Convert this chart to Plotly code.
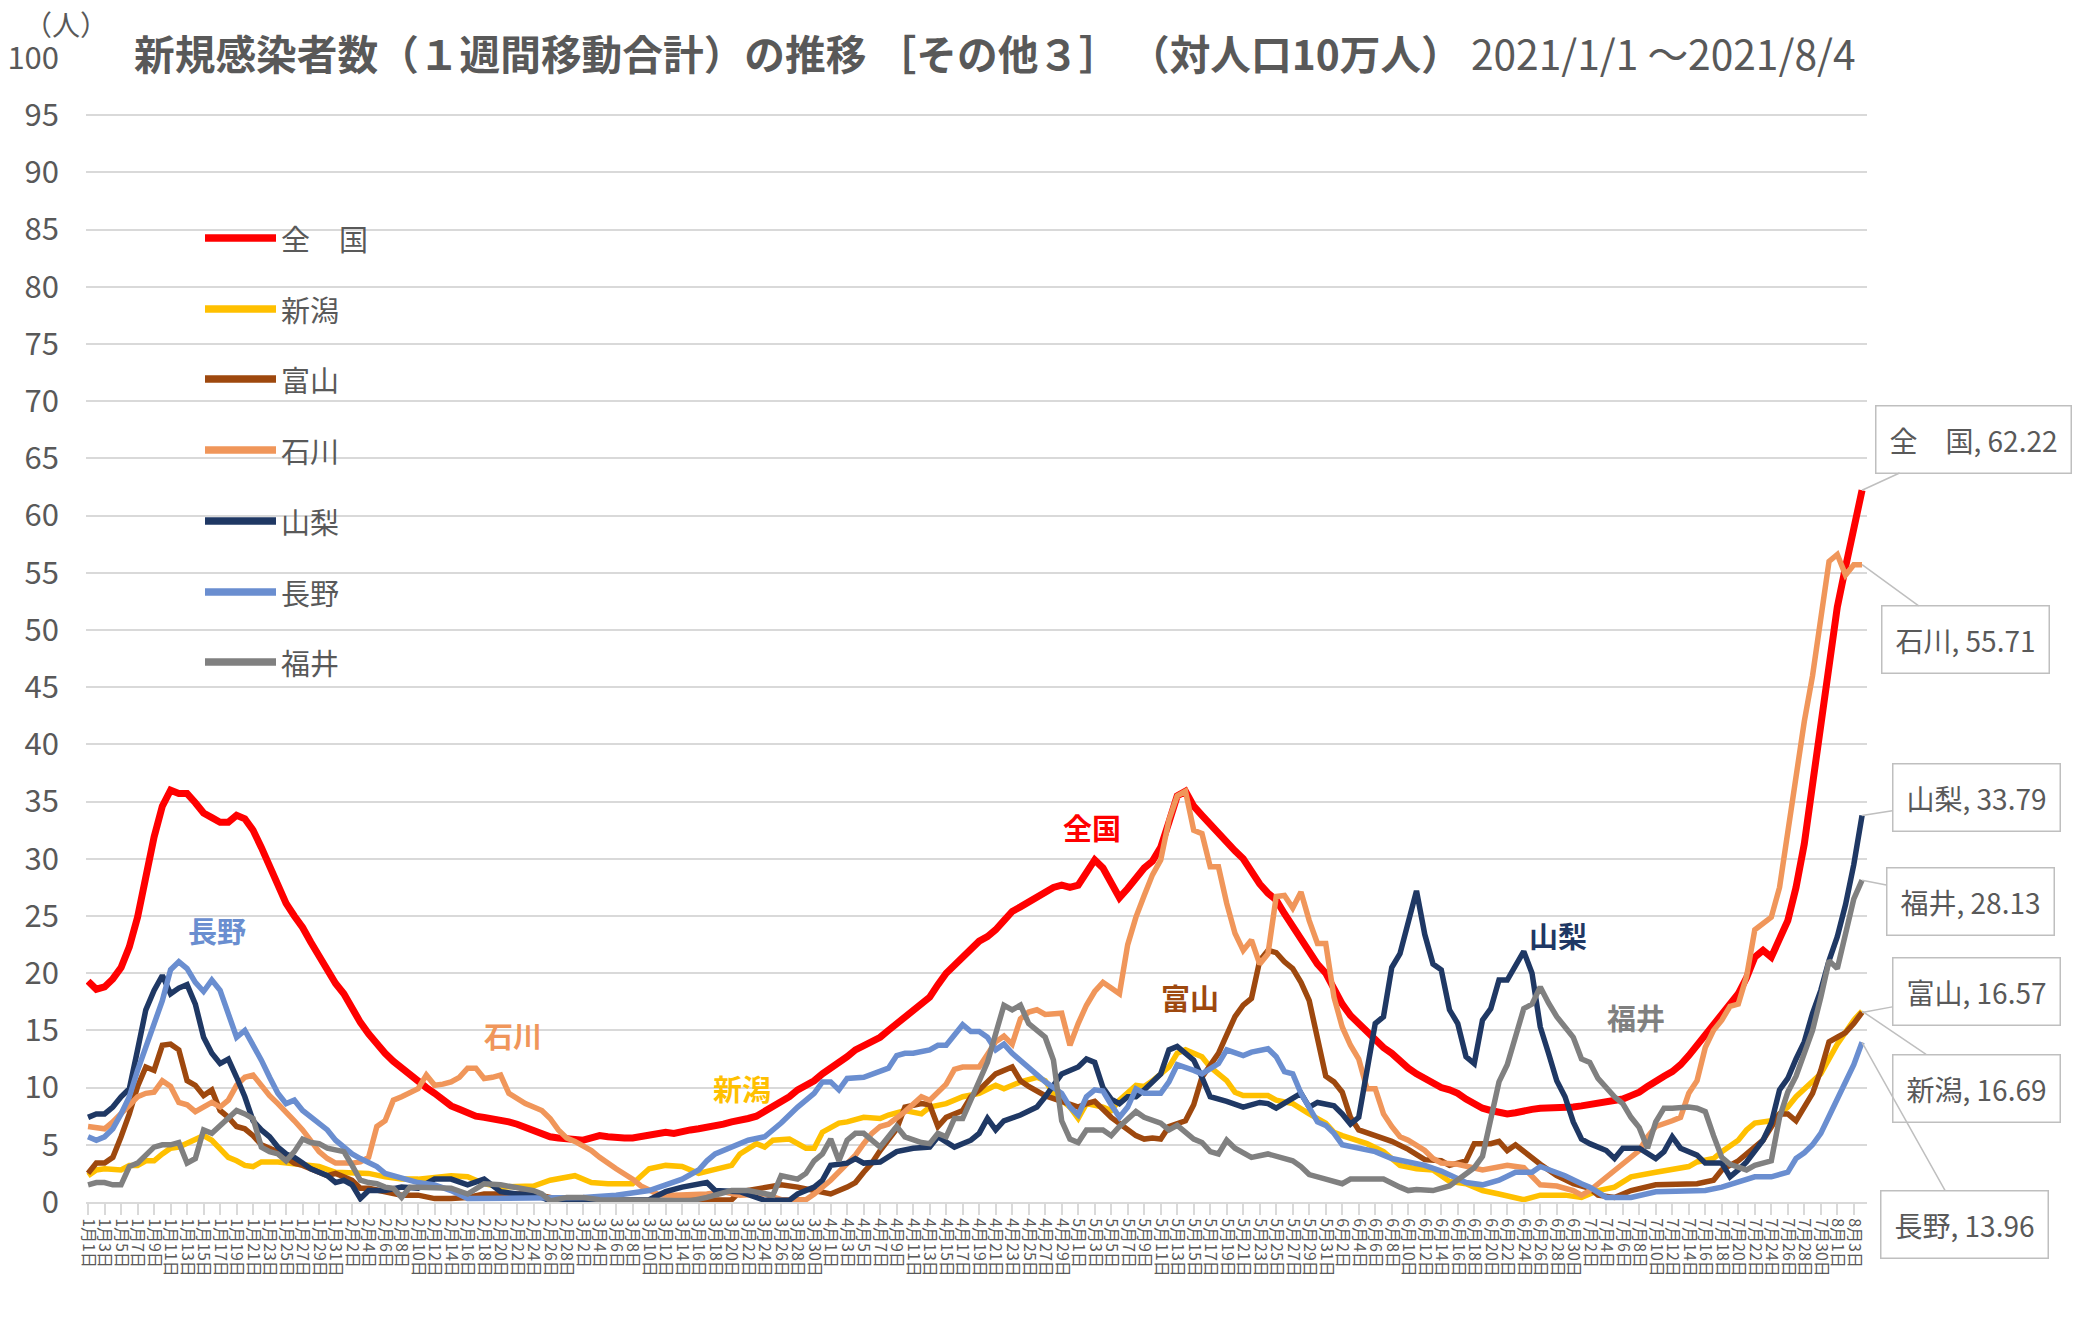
import pandas as pd
import plotly.graph_objects as go

# ---------------- data (day offset from 2021-01-01, value per 100k) ----------------
start = pd.Timestamp("2021-01-01")
n_days = 216
dates = pd.date_range(start, periods=n_days)
tick_days = list(range(0, n_days, 2))
tick_text = [f"{dates[d].month}月{dates[d].day}日" for d in tick_days]

series_names = ["全　国", "新潟", "富山", "石川", "山梨", "長野", "福井"]
series_colors = ["#FF0000", "#FFC000", "#9E480E", "#F0965A", "#1F3864", "#6A8ED0", "#808080"]
inline_labels = ["全国", "新潟", "富山", "石川", "山梨", "長野", "福井"]
y_ticks = list(range(0, 101, 5))

zenkoku = [(0,19.3),(1,18.6),(2,18.8),(3,19.5),(4,20.5),(5,22.3),(6,24.9),(7,28.5),(8,31.9),(9,34.6),(10,36.0),
 (11,35.7),(12,35.7),(13,34.9),(14,34.0),(15,33.6),(16,33.2),(17,33.2),(18,33.8),(19,33.5),(20,32.5),(21,31.0),
 (22,29.3),(23,27.7),(24,26.1),(25,25.0),(26,24.0),(27,22.7),(28,21.4),(29,20.4),(30,19.1),(31,18.2),(32,16.8),
 (33,15.7),(34,14.7),(35,13.8),(36,13.0),(37,12.3),(38,11.7),(39,11.1),(40,10.5),(41,10.0),(42,9.5),(43,8.9),
 (44,8.4),(45,8.1),(46,7.8),(47,7.5),(48,7.4),(49,7.3),(50,7.2),(51,7.0),(52,6.8),(53,6.5),(54,6.2),(55,5.9),
 (56,5.7),(57,5.6),(58,5.5),(59,5.5),(60,5.4),(61,5.6),(62,5.8),(63,5.7),(64,5.6),(65,5.6),(66,5.6),(67,5.7),
 (68,5.8),(69,5.9),(70,6.1),(71,6.0),(72,6.2),(73,6.3),(74,6.4),(75,6.5),(76,6.6),(77,6.8),(78,7.0),(79,7.1),
 (80,7.3),(81,7.5),(82,7.9),(83,8.3),(84,8.7),(85,9.2),(86,9.8),(87,10.2),(88,10.6),(89,11.2),(90,11.7),
 (91,12.1),(92,12.7),(93,13.3),(94,13.7),(95,14.0),(96,14.4),(97,15.0),(98,15.6),(99,16.2),(100,16.8),
 (101,17.4),(102,17.9),(103,19.0),(104,20.0),(105,20.7),(106,21.4),(107,22.0),(108,22.8),(109,23.2),(110,23.8),
 (111,24.6),(112,25.4),(113,25.8),(114,26.2),(115,26.6),(116,27.1),(117,27.5),(118,27.7),(119,27.5),(120,27.7),
 (121,28.8),(122,29.9),(123,29.2),(124,27.8),(125,26.6),(126,27.4),(127,28.4),(128,29.2),(129,29.8),(130,31.0),
 (131,33.2),(132,35.5),(133,35.9),(134,34.6),(135,33.8),(136,33.0),(137,32.2),(138,31.3),(139,30.7),(140,30.0),
 (141,28.9),(142,27.8),(143,27.0),(144,26.4),(145,25.2),(146,24.1),(147,22.9),(148,21.7),(149,20.8),(150,20.0),
 (151,18.6),(152,17.3),(153,16.3),(154,15.6),(155,14.8),(156,14.1),(157,13.5),(158,13.0),(159,12.3),(160,11.7),
 (161,11.2),(162,10.8),(163,10.4),(164,10.0),(165,9.8),(166,9.5),(167,9.0),(168,8.6),(169,8.2),(170,8.0),
 (171,7.8),(172,7.7),(173,7.8),(174,8.0),(175,8.1),(176,8.2),(177,8.2),(178,8.3),(179,8.3),(180,8.3),
 (181,8.4),(182,8.5),(183,8.6),(184,8.7),(185,8.8),(186,9.0),(187,9.3),(188,9.6),(189,10.1),(190,10.6),
 (191,11.0),(192,11.4),(193,12.0),(194,12.8),(195,13.7),(196,14.7),(197,15.7),(198,16.6),(199,17.4),(200,18.2),
 (201,19.6),(202,21.4),(203,22.0),(204,21.4),(205,23.0),(206,24.6),(207,27.5),(208,31.3),(209,36.5),(210,41.5),
 (211,47.5),(212,52.0),(213,55.5),(214,59.0),(215,62.22)]

niigata = [(0,2.3),(1,2.8),(2,2.9),(4,2.8),(5,3.2),(6,3.2),(7,3.6),(8,3.6),(9,4.2),(10,4.7),(11,4.8),(12,5.1),
 (13,5.4),(14,5.8),(15,5.4),(16,4.7),(17,3.9),(18,3.6),(19,3.2),(20,3.1),(21,3.5),(23,3.5),(24,3.4),(26,3.2),
 (28,3.1),(30,2.6),(32,2.6),(34,2.5),(36,2.2),(38,2.0),(40,2.0),(42,2.2),(44,2.3),(46,2.2),(48,1.6),(50,1.3),
 (52,1.3),(54,1.4),(56,1.9),(58,2.2),(59,2.3),(61,1.7),(63,1.6),(66,1.6),(68,2.9),(70,3.2),(72,3.1),(74,2.5),
 (76,2.9),(78,3.2),(79,4.2),(81,5.1),(82,4.8),(83,5.4),(85,5.5),(87,4.7),(88,4.7),(89,6.1),(91,6.9),(92,7.0),
 (94,7.4),(96,7.3),(97,7.6),(99,8.0),(101,7.7),(102,8.3),(104,8.6),(106,9.2),(108,9.5),(110,10.2),(111,9.9),
 (113,10.5),(115,10.9),(116,10.6),(117,9.5),(119,8.3),(120,7.3),(121,8.6),(123,8.3),(124,8.0),(125,8.9),
 (127,10.2),(128,10.1),(129,10.6),(131,11.8),(132,13.0),(133,13.3),(135,12.7),(136,11.8),(138,10.6),(139,9.6),
 (140,9.3),(141,9.3),(143,9.3),(144,8.9),(146,8.6),(148,7.7),(150,6.9),(151,6.1),(152,5.8),(155,5.1),(157,4.4),
 (159,3.2),(161,2.9),(163,2.8),(165,1.8),(167,1.6),(169,1.0),(171,0.7),(174,0.2),(176,0.6),(179,0.6),(181,0.4),
 (183,1.0),(185,1.3),(187,2.2),(190,2.6),(192,2.9),(194,3.1),(195,3.5),(197,3.8),(198,4.4),(200,5.4),(201,6.3),
 (202,6.9),(204,7.1),(205,7.7),(206,8.3),(207,9.2),(210,11.2),(211,12.5),(212,13.8),(214,15.9),(215,16.69)]

toyama = [(0,2.5),(1,3.4),(2,3.4),(3,3.9),(4,5.7),(5,7.7),(6,10.1),(7,11.8),(8,11.5),(9,13.7),(10,13.8),(11,13.3),
 (12,10.6),(13,10.2),(14,9.3),(15,9.8),(16,8.0),(17,7.4),(18,6.6),(19,6.4),(20,5.8),(21,5.0),(22,4.7),(23,4.4),
 (24,3.9),(25,3.4),(26,3.2),(27,2.9),(28,2.6),(29,2.3),(30,2.5),(31,2.2),(32,1.9),(33,1.2),(34,1.2),(36,0.9),
 (38,0.6),(40,0.6),(42,0.3),(44,0.3),(46,0.4),(48,0.7),(50,0.7),(52,0.6),(54,0.7),(56,0.4),(58,0.1),(62,0.1),
 (66,0.1),(70,0.1),(74,0.1),(78,0.2),(79,0.9),(82,1.2),(84,1.5),(86,1.3),(88,1.0),(90,0.7),(92,1.3),(93,1.7),
 (94,2.6),(95,3.4),(96,4.5),(97,5.4),(98,6.4),(99,8.3),(101,8.6),(102,8.5),(103,6.6),(104,7.4),(106,8.0),
 (107,9.2),(108,9.8),(110,11.2),(112,11.8),(113,10.6),(114,10.1),(116,9.3),(118,8.8),(120,8.3),(121,8.6),
 (122,8.8),(124,7.4),(126,6.3),(127,5.8),(128,5.5),(129,5.6),(130,5.5),(131,6.6),(133,7.1),(134,8.5),(135,10.9),
 (137,13.0),(138,14.6),(139,16.2),(140,17.2),(141,17.8),(142,21.1),(143,22.0),(144,21.8),(145,21.0),(146,20.4),
 (147,19.2),(148,17.6),(149,14.4),(150,11.0),(151,10.5),(152,9.6),(153,7.4),(154,6.3),(156,5.8),(158,5.3),
 (160,4.6),(162,3.7),(164,3.6),(165,3.2),(167,3.6),(168,5.1),(169,5.1),(170,5.1),(171,5.3),(172,4.5),(173,5.0),
 (175,3.8),(176,3.3),(178,2.3),(180,1.6),(182,1.2),(183,0.6),(185,0.4),(187,1.0),(190,1.5),(192,1.5),(195,1.6),
 (197,1.9),(198,2.8),(200,3.6),(202,4.8),(203,5.4),(205,7.7),(206,7.7),(207,7.1),(208,8.3),(209,9.5),(210,11.5),
 (211,14.0),(212,14.4),(213,14.8),(214,15.6),(215,16.57)]

ishikawa = [(0,6.6),(2,6.4),(3,7.0),(4,7.7),(5,8.5),(6,9.2),(7,9.5),(8,9.6),(9,10.6),(10,10.1),(11,8.7),(12,8.5),
 (13,7.9),(14,8.3),(15,8.7),(16,8.3),(17,8.9),(18,10.2),(19,10.9),(20,11.1),(21,10.1),(22,9.3),(23,8.6),(24,7.9),
 (25,7.1),(26,6.3),(27,5.4),(28,4.4),(29,3.8),(30,3.4),(32,3.4),(33,3.5),(34,3.9),(35,6.6),(36,7.1),(37,8.9),
 (38,9.2),(39,9.5),(40,9.9),(41,11.1),(42,10.2),(43,10.3),(44,10.5),(45,10.9),(46,11.7),(47,11.7),(48,10.8),
 (49,10.9),(50,11.1),(51,9.5),(52,9.0),(53,8.6),(54,8.3),(55,8.0),(56,7.3),(57,6.3),(58,5.6),(59,5.3),(61,4.5),
 (62,3.9),(64,2.9),(66,2.0),(67,1.4),(69,0.7),(71,0.6),(73,0.6),(75,0.7),(77,0.9),(79,0.6),(82,0.7),(84,0.2),
 (87,0.2),(88,0.7),(90,1.9),(92,3.4),(93,4.1),(94,5.1),(95,6.0),(96,6.6),(97,6.8),(99,7.9),(100,8.5),(101,9.2),
 (102,8.9),(104,10.3),(105,11.6),(106,11.8),(108,11.8),(109,13.0),(110,14.0),(111,14.5),(112,13.8),(113,16.0),
 (114,16.6),(115,16.8),(116,16.4),(118,16.5),(119,13.7),(120,15.6),(121,17.2),(122,18.4),(123,19.2),(124,18.7),
 (125,18.2),(126,22.5),(127,24.9),(128,26.8),(129,28.6),(130,29.9),(131,33.4),(132,35.5),(133,35.9),(134,32.5),
 (135,32.2),(136,29.3),(137,29.3),(138,26.1),(139,23.5),(140,22.0),(141,22.9),(142,20.8),(143,21.7),(144,26.7),
 (145,26.8),(146,25.7),(147,27.1),(148,24.6),(149,22.6),(150,22.6),(151,17.9),(152,15.3),(153,13.7),(154,12.5),
 (155,9.9),(156,9.9),(157,7.7),(158,6.6),(159,5.7),(160,5.4),(161,5.0),(162,4.5),(163,3.8),(164,3.4),(166,3.3),
 (169,2.8),(172,3.2),(174,3.0),(176,1.5),(178,1.4),(180,1.0),(181,0.6),(182,1.0),(184,2.2),(186,3.4),(188,4.5),
 (189,5.7),(190,6.6),(192,7.1),(193,7.4),(194,9.5),(195,10.6),(196,13.5),(197,15.0),(198,15.9),(199,17.1),
 (200,17.3),(201,19.7),(202,23.8),(203,24.4),(204,24.9),(205,27.5),(206,32.5),(207,37.5),(208,42.0),(209,46.0),
 (210,51.0),(211,56.0),(212,56.6),(213,54.8),(214,55.7),(215,55.71)]

yamanashi = [(0,7.4),(1,7.7),(2,7.7),(3,8.3),(4,9.2),(5,9.9),(6,13.3),(7,16.8),(8,18.5),(9,19.8),(10,18.2),(11,18.7),
 (12,19.0),(13,17.3),(14,14.4),(15,13.0),(16,12.1),(17,12.5),(18,10.9),(19,9.2),(20,7.1),(21,6.3),(22,5.7),(23,4.8),
 (24,4.2),(25,3.9),(26,3.4),(27,2.9),(28,2.6),(29,2.3),(30,1.7),(31,1.9),(32,1.5),(33,0.3),(34,1.0),(36,1.0),
 (38,1.3),(40,1.2),(42,2.0),(44,2.0),(46,1.5),(48,2.0),(50,0.9),(52,0.7),(54,0.7),(56,0.1),(60,0.1),(64,0.1),
 (68,0.2),(70,0.9),(72,1.3),(75,1.7),(76,1.0),(79,0.9),(82,0.15),(85,0.15),(86,0.7),(88,1.3),(89,1.9),(90,3.2),
 (92,3.4),(93,3.8),(94,3.4),(96,3.5),(97,3.9),(98,4.4),(100,4.7),(102,4.8),(103,5.7),(105,4.8),(107,5.4),(108,6.0),
 (109,7.3),(110,6.3),(111,7.1),(113,7.6),(115,8.3),(116,9.2),(118,11.2),(120,11.8),(121,12.5),(122,12.2),
 (123,10.0),(124,9.0),(125,8.6),(126,9.2),(127,9.2),(128,9.8),(130,11.2),(131,13.3),(132,13.6),(134,12.4),
 (135,10.9),(136,9.2),(138,8.8),(139,8.5),(140,8.3),(142,8.7),(143,8.6),(144,8.2),(146,9.0),(147,9.5),(148,8.3),
 (149,8.7),(151,8.4),(152,7.7),(153,6.8),(154,7.4),(155,11.5),(156,15.6),(157,16.2),(158,20.5),(159,21.7),
 (160,24.5),(161,27.2),(162,23.4),(163,20.8),(164,20.3),(165,16.8),(166,15.6),(167,12.7),(168,12.1),(169,15.9),
 (170,16.9),(171,19.4),(172,19.4),(174,21.9),(175,20.0),(176,15.3),(177,13.0),(178,10.6),(179,9.2),(180,7.0),
 (181,5.5),(182,5.1),(184,4.5),(185,3.8),(186,4.7),(188,4.7),(190,3.8),(191,4.4),(192,5.7),(193,4.7),(195,4.1),
 (196,3.4),(198,3.4),(199,2.2),(200,2.8),(201,3.5),(203,5.4),(204,6.9),(205,9.8),(206,10.8),(207,12.5),(208,14.0),
 (209,16.5),(210,18.5),(211,21.1),(212,23.2),(213,26.0),(214,29.5),(215,33.79)]

nagano = [(0,5.7),(1,5.4),(2,5.7),(3,6.4),(4,7.7),(5,9.2),(6,11.5),(7,13.6),(8,15.6),(9,17.6),(10,20.3),(11,21.0),
 (12,20.4),(13,19.2),(14,18.4),(15,19.4),(16,18.5),(17,16.5),(18,14.4),(19,15.0),(20,13.8),(21,12.4),(22,10.9),
 (23,9.5),(24,8.6),(25,8.9),(26,8.0),(27,7.4),(28,6.9),(29,6.3),(30,5.4),(31,4.8),(32,4.2),(33,3.8),(34,3.4),
 (35,3.1),(36,2.5),(37,2.3),(38,2.2),(40,1.7),(42,1.5),(44,1.0),(46,0.3),(48,0.3),(50,0.4),(52,0.4),(54,0.3),
 (56,0.4),(60,0.4),(64,0.6),(66,0.8),(68,1.0),(70,1.5),(72,2.0),(74,2.8),(75,3.6),(76,4.2),(78,4.8),(80,5.4),
 (82,5.7),(84,6.9),(86,8.3),(88,9.5),(89,10.5),(90,10.5),(91,9.8),(92,10.8),(94,10.9),(96,11.5),(97,11.7),
 (98,12.8),(99,13.0),(100,13.0),(102,13.3),(103,13.7),(104,13.7),(106,15.5),(107,14.9),(108,14.9),(109,14.4),
 (110,13.3),(111,13.8),(112,13.0),(114,11.7),(116,10.5),(118,9.5),(119,8.3),(120,7.6),(121,9.2),(122,9.8),
 (123,9.7),(124,8.5),(125,7.4),(126,8.3),(127,9.9),(128,9.5),(130,9.5),(131,10.5),(132,12.0),(134,11.5),
 (135,11.2),(137,12.1),(138,13.3),(140,12.8),(141,13.1),(143,13.4),(144,12.7),(145,11.4),(146,11.2),(147,9.5),
 (148,8.3),(149,7.0),(150,6.7),(151,6.0),(152,5.0),(154,4.7),(156,4.4),(158,3.8),(160,3.5),(162,3.2),(164,2.7),
 (167,1.7),(169,1.5),(171,1.9),(173,2.6),(175,2.6),(176,3.1),(179,2.3),(181,1.6),(182,1.3),(184,0.4),(187,0.4),
 (190,0.9),(194,0.9),(196,1.0),(198,1.3),(200,1.7),(202,2.2),(204,2.2),(206,2.6),(207,3.8),(208,4.3),(209,5.0),
 (210,6.0),(211,7.5),(212,9.0),(213,10.3),(214,12.0),(215,13.96)]

fukui = [(0,1.5),(1,1.7),(2,1.7),(3,1.5),(4,1.5),(5,3.1),(6,3.4),(7,4.1),(8,4.8),(9,5.0),(10,5.0),(11,5.2),(12,3.4),
 (13,3.8),(14,6.3),(15,6.0),(16,6.7),(17,7.4),(18,8.0),(19,7.7),(20,7.3),(21,4.8),(22,4.4),(23,4.2),(24,3.6),
 (25,4.4),(26,5.5),(27,5.2),(28,5.1),(29,4.7),(30,4.5),(31,4.4),(32,3.2),(33,1.9),(34,1.7),(35,1.6),(36,1.3),
 (37,1.2),(38,0.4),(39,1.3),(40,1.3),(42,1.2),(44,1.2),(46,0.7),(47,1.2),(48,1.6),(50,1.5),(52,1.3),(54,1.0),
 (55,0.7),(56,0.1),(58,0.4),(60,0.4),(62,0.2),(66,0.2),(70,0.2),(73,0.1),(75,0.4),(78,1.0),(80,1.0),(82,0.7),
 (83,0.6),(84,2.3),(86,2.0),(87,2.5),(88,3.6),(89,4.2),(90,5.5),(91,3.6),(92,5.4),(93,6.0),(94,6.0),(96,4.8),
 (98,6.6),(99,5.7),(101,5.2),(102,5.1),(103,6.0),(104,5.7),(105,7.3),(106,7.3),(107,8.9),(108,10.7),(109,12.2),
 (110,14.7),(111,17.2),(112,16.8),(113,17.2),(114,15.6),(115,15.0),(116,14.4),(117,12.4),(118,7.1),(119,5.5),
 (120,5.2),(121,6.3),(123,6.3),(124,5.8),(125,6.6),(127,7.9),(128,7.4),(130,6.9),(131,6.3),(132,6.7),(134,5.5),
 (135,5.2),(136,4.4),(137,4.2),(138,5.4),(139,4.7),(141,3.9),(143,4.2),(146,3.6),(147,3.1),(148,2.4),(150,2.0),
 (152,1.6),(153,2.0),(155,2.0),(157,2.0),(159,1.3),(160,1.0),(161,1.1),(163,1.0),(165,1.4),(167,2.4),(168,3.0),
 (169,4.0),(170,7.0),(171,10.5),(172,12.0),(173,14.5),(174,16.9),(175,17.3),(176,18.8),(177,17.4),(178,16.2),
 (179,15.3),(180,14.4),(181,12.5),(182,12.2),(183,10.8),(184,10.0),(185,9.2),(186,8.6),(187,7.4),(188,6.5),
 (189,4.7),(190,7.0),(191,8.2),(192,8.2),(194,8.3),(195,8.2),(196,7.9),(197,5.8),(198,3.9),(199,3.3),(201,2.8),
 (202,3.2),(204,3.6),(205,7.4),(206,9.6),(207,11.0),(208,13.0),(209,15.0),(210,17.9),(211,21.1),(212,20.4),
 (213,23.5),(214,26.5),(215,28.13)]

series_data = [zenkoku, niigata, toyama, ishikawa, yamanashi, nagano, fukui]

# ---------------- layout geometry ----------------
W, H = 2075, 1326
L, R, T, B = 86, 208, 58, 124
PW, PH = W - L - R, H - T - B
GRAY_TXT = "#595959"
GRID = "#d9d9d9"
FONT = "Noto Sans CJK JP, Noto Sans, sans-serif"


def px_x(px):
    return (px - L) / PW


def px_y(py):
    return (H - B - py) / PH


fig = go.Figure()
for name, color, pts in zip(series_names, series_colors, series_data):
    fig.add_trace(go.Scatter(
        x=[p[0] for p in pts], y=[p[1] for p in pts], mode="lines", name=name,
        line=dict(color=color, width=7 if name == "全　国" else 5.5),
        hoverinfo="skip", showlegend=False))

annotations = []
shapes = []

# title and unit
annotations.append(dict(
    xref="paper", yref="paper", x=px_x(132), y=px_y(52), xanchor="left", yanchor="middle",
    text="<b>新規感染者数（１週間移動合計）の推移 ［その他３］ （対人口10万人）</b> 2021/1/1 ～2021/8/4",
    showarrow=False, font=dict(size=40.7, color=GRAY_TXT, family=FONT)))
annotations.append(dict(
    xref="paper", yref="paper", x=px_x(66), y=px_y(24), xanchor="center", yanchor="middle",
    text="（人）", showarrow=False, font=dict(size=28, color=GRAY_TXT, family=FONT)))

# manual legend
legend_y = [238, 309, 379, 450, 521, 592, 662]
for name, color, ly in zip(series_names, series_colors, legend_y):
    shapes.append(dict(type="line", xref="paper", yref="paper",
                       x0=px_x(205), x1=px_x(276), y0=px_y(ly), y1=px_y(ly),
                       line=dict(color=color, width=7.5)))
    annotations.append(dict(xref="paper", yref="paper", x=px_x(279), y=px_y(ly),
                            xanchor="left", yanchor="middle", text=name, showarrow=False,
                            font=dict(size=29, color=GRAY_TXT, family=FONT)))

# inline series labels (data coordinates)
inline_pos = {"長野": (15.6, 23.8), "石川": (51.5, 14.6), "新潟": (79.2, 9.95), "全国": (121.7, 32.8),
              "富山": (133.5, 17.9), "山梨": (178.1, 23.3), "福井": (187.6, 16.2)}
for lab, color in zip(inline_labels, series_colors):
    xx, yy = inline_pos[lab]
    annotations.append(dict(x=xx, y=yy, xref="x", yref="y", text=f"<b>{lab}</b>", showarrow=False,
                            font=dict(size=29, color=color, family=FONT)))

# end-value callouts
callout_offsets = {"全　国": (111, -51), "石川": (103, 75), "山梨": (114, -18), "福井": (108, 21),
                   "富山": (114, -21), "新潟": (114, 77), "長野": (102, 182)}
for name, pts in zip(series_names, series_data):
    lx, lv = pts[-1]
    ax, ay = callout_offsets[name]
    annotations.append(dict(
        x=lx, y=lv, xref="x", yref="y", text=f"{name}, {lv:.2f}", showarrow=True,
        arrowhead=0, arrowwidth=1.5, arrowcolor="#bfbfbf", ax=ax, ay=ay,
        bordercolor="#bfbfbf", borderwidth=1.5, borderpad=13, bgcolor="white",
        font=dict(size=28, color=GRAY_TXT, family=FONT)))

fig.update_layout(
    width=W, height=H, margin=dict(l=L, r=R, t=T, b=B, autoexpand=False),
    plot_bgcolor="white", paper_bgcolor="white", showlegend=False,
    font=dict(family=FONT, color=GRAY_TXT),
    annotations=annotations, shapes=shapes,
    xaxis=dict(range=[-0.25, 215.6], tickmode="array", tickvals=tick_days, ticktext=tick_text,
               tickangle=90, tickfont=dict(size=16, color=GRAY_TXT, family=FONT),
               showgrid=False, zeroline=False, showline=True, linecolor=GRID, linewidth=2,
               ticks="outside", ticklen=11, tickcolor=GRID, tickwidth=1.5),
    yaxis=dict(range=[0, 100], tickmode="array", tickvals=y_ticks,
               tickfont=dict(size=31, color=GRAY_TXT, family=FONT),
               showgrid=True, gridcolor=GRID, gridwidth=2, zeroline=False, showline=False,
               ticks="", ticklabelstandoff=26),
)

fig.write_html("out.html", config={"displayModeBar": False},
               post_script="document.body.style.margin='0px';document.body.style.overflow='hidden';")
